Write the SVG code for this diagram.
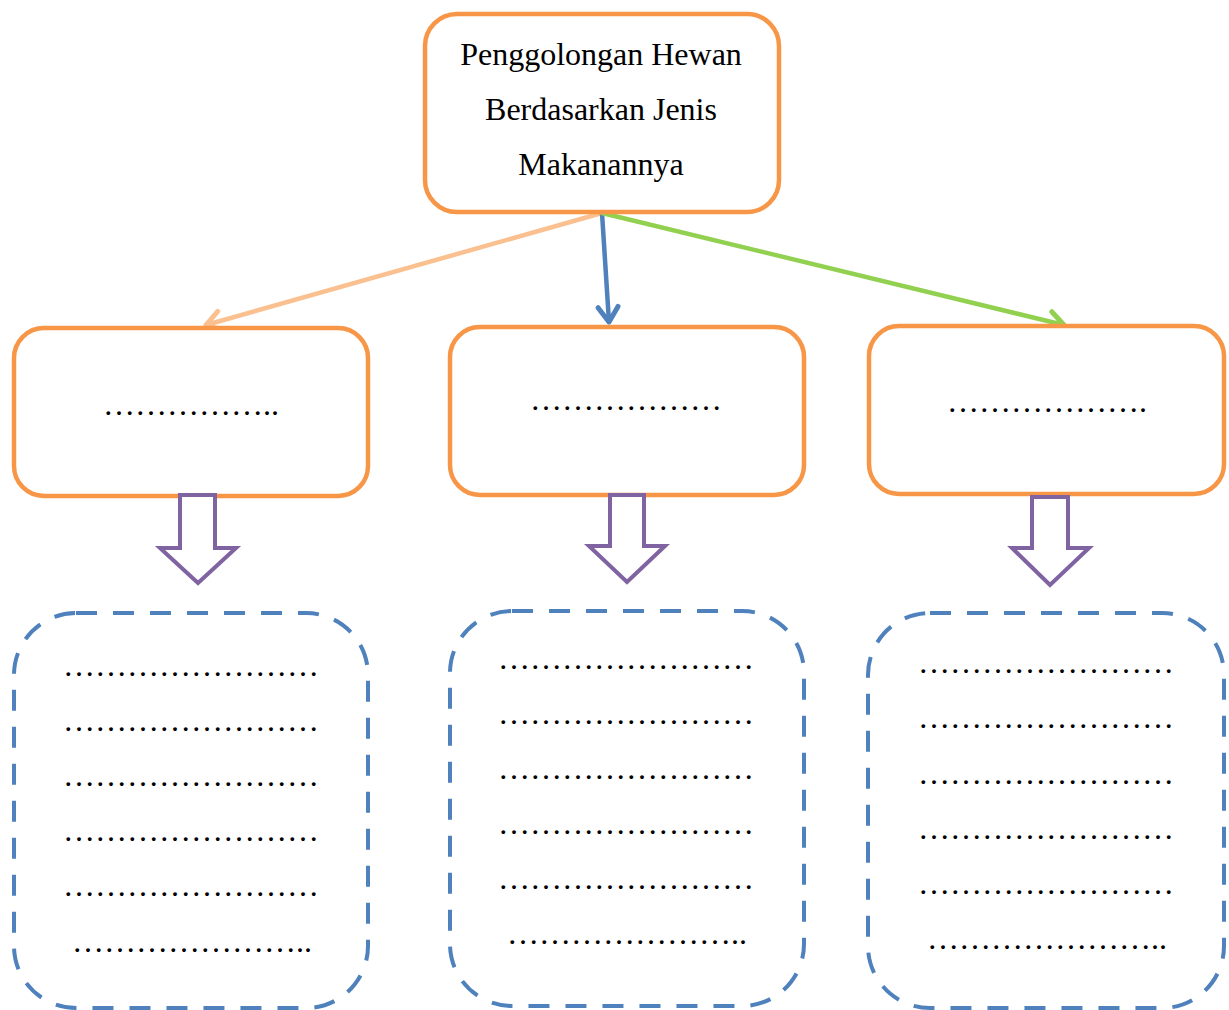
<svg xmlns="http://www.w3.org/2000/svg" width="1229" height="1010" viewBox="0 0 1229 1010">
  <style>
    .box { fill: #FFFFFF; stroke: #F79646; stroke-width: 4.5; }
    .dash { fill: #FFFFFF; stroke: #4F81BD; stroke-width: 4; stroke-dasharray: 21 16; }
    .blk { fill: #FFFFFF; stroke: #8064A2; stroke-width: 4; stroke-linejoin: miter; }
    .t { font-family: "Liberation Serif", "Times New Roman", serif; font-size: 32px; fill: #000000; text-anchor: middle; }
    .c { fill: none; stroke-width: 4.5; stroke-linecap: round; }
  </style>
  <defs>
    <marker id="mPeach" markerUnits="userSpaceOnUse" markerWidth="40" markerHeight="40" viewBox="-20 -20 40 40" refX="0" refY="0" orient="auto">
      <path d="M -15 -10 L 0 0 L -15 10" fill="none" stroke="#FAC090" stroke-width="5" stroke-linecap="round" stroke-linejoin="round"/>
    </marker>
    <marker id="mBlue" markerUnits="userSpaceOnUse" markerWidth="40" markerHeight="40" viewBox="-20 -20 40 40" refX="0" refY="0" orient="auto">
      <path d="M -15 -10 L 0 0 L -15 10" fill="none" stroke="#4F81BD" stroke-width="5" stroke-linecap="round" stroke-linejoin="round"/>
    </marker>
    <marker id="mGreen" markerUnits="userSpaceOnUse" markerWidth="40" markerHeight="40" viewBox="-20 -20 40 40" refX="0" refY="0" orient="auto">
      <path d="M -15 -10 L 0 0 L -15 10" fill="none" stroke="#92D050" stroke-width="5" stroke-linecap="round" stroke-linejoin="round"/>
    </marker>
  </defs>

  <g id="connectors">
    <line class="c" x1="602" y1="213" x2="206" y2="325" stroke="#FAC090" marker-end="url(#mPeach)"/>
    <line class="c" x1="602" y1="213" x2="609" y2="322" stroke="#4F81BD" marker-end="url(#mBlue)"/>
    <line class="c" x1="602" y1="213" x2="1064" y2="325" stroke="#92D050" marker-end="url(#mGreen)"/>
  </g>

  <g id="root">
    <rect class="box" x="425" y="14" width="354" height="198" rx="32" ry="32"/>
    <text class="t" x="601" y="65">Penggolongan Hewan</text>
    <text class="t" x="601" y="120">Berdasarkan Jenis</text>
    <text class="t" x="601" y="175">Makanannya</text>
  </g>

  <g id="cat1">
    <rect class="box" x="14" y="328" width="354" height="168" rx="30" ry="30"/>
    <text class="t" x="191" y="415">&#8230;&#8230;&#8230;&#8230;&#8230;..</text>
  </g>
  <g id="cat2">
    <rect class="box" x="450" y="327" width="354" height="168" rx="30" ry="30"/>
    <text class="t" x="626" y="410">&#8230;&#8230;&#8230;&#8230;&#8230;&#8230;</text>
  </g>
  <g id="cat3">
    <rect class="box" x="869" y="326" width="355" height="168" rx="30" ry="30"/>
    <text class="t" x="1047" y="412">&#8230;&#8230;&#8230;&#8230;&#8230;&#8230;.</text>
  </g>

  <g id="arrow1">
    <polygon class="blk" points="180,495 215,495 215,548 236,548 198,583 160,548 180,548"/>
  </g>
  <g id="arrow2">
    <polygon class="blk" points="610,495 644,495 644,546 665,546 627,582 589,546 610,546"/>
  </g>
  <g id="arrow3">
    <polygon class="blk" points="1032,497 1068,497 1068,548 1089,548 1050,585 1012,548 1032,548"/>
  </g>

  <g id="list1">
    <rect class="dash" x="14" y="613" width="354" height="395" rx="62" ry="62"/>
    <text class="t" x="191" y="676">&#8230;&#8230;&#8230;&#8230;&#8230;&#8230;&#8230;&#8230;</text>
    <text class="t" x="191" y="731">&#8230;&#8230;&#8230;&#8230;&#8230;&#8230;&#8230;&#8230;</text>
    <text class="t" x="191" y="786">&#8230;&#8230;&#8230;&#8230;&#8230;&#8230;&#8230;&#8230;</text>
    <text class="t" x="191" y="841">&#8230;&#8230;&#8230;&#8230;&#8230;&#8230;&#8230;&#8230;</text>
    <text class="t" x="191" y="896">&#8230;&#8230;&#8230;&#8230;&#8230;&#8230;&#8230;&#8230;</text>
    <text class="t" x="192" y="952">&#8230;&#8230;&#8230;&#8230;&#8230;&#8230;&#8230;..</text>
  </g>
  <g id="list2">
    <rect class="dash" x="450" y="611" width="354" height="395" rx="62" ry="62"/>
    <text class="t" x="626" y="669">&#8230;&#8230;&#8230;&#8230;&#8230;&#8230;&#8230;&#8230;</text>
    <text class="t" x="626" y="724">&#8230;&#8230;&#8230;&#8230;&#8230;&#8230;&#8230;&#8230;</text>
    <text class="t" x="626" y="779">&#8230;&#8230;&#8230;&#8230;&#8230;&#8230;&#8230;&#8230;</text>
    <text class="t" x="626" y="834">&#8230;&#8230;&#8230;&#8230;&#8230;&#8230;&#8230;&#8230;</text>
    <text class="t" x="626" y="889">&#8230;&#8230;&#8230;&#8230;&#8230;&#8230;&#8230;&#8230;</text>
    <text class="t" x="627" y="944">&#8230;&#8230;&#8230;&#8230;&#8230;&#8230;&#8230;..</text>
  </g>
  <g id="list3">
    <rect class="dash" x="868" y="613" width="356" height="395" rx="62" ry="62"/>
    <text class="t" x="1046" y="673">&#8230;&#8230;&#8230;&#8230;&#8230;&#8230;&#8230;&#8230;</text>
    <text class="t" x="1046" y="728">&#8230;&#8230;&#8230;&#8230;&#8230;&#8230;&#8230;&#8230;</text>
    <text class="t" x="1046" y="784">&#8230;&#8230;&#8230;&#8230;&#8230;&#8230;&#8230;&#8230;</text>
    <text class="t" x="1046" y="839">&#8230;&#8230;&#8230;&#8230;&#8230;&#8230;&#8230;&#8230;</text>
    <text class="t" x="1046" y="894">&#8230;&#8230;&#8230;&#8230;&#8230;&#8230;&#8230;&#8230;</text>
    <text class="t" x="1047" y="949">&#8230;&#8230;&#8230;&#8230;&#8230;&#8230;&#8230;..</text>
  </g>
</svg>
